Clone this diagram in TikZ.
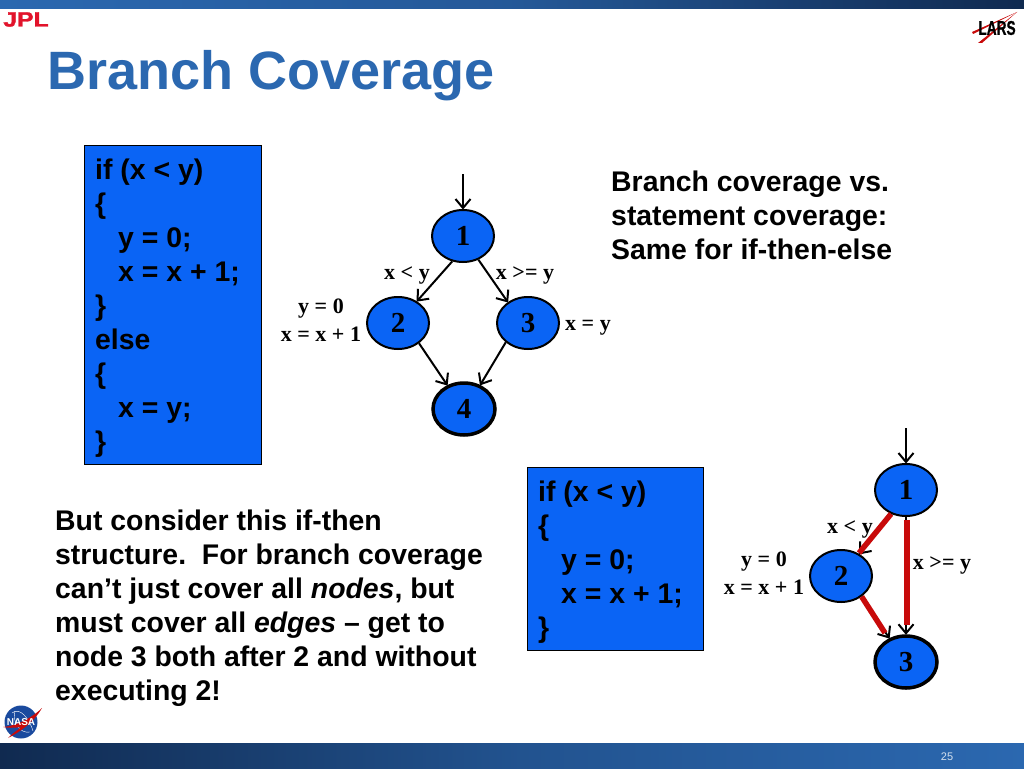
\documentclass[tikz,border=0pt]{standalone}
\usepackage{fontspec}
\setmainfont{Liberation Sans}
\newfontfamily\serifb{Liberation Serif}[BoldFont=* Bold]
\usetikzlibrary{shapes.geometric,arrows.meta,shadings}
\pgfdeclarearrow{
  name = OpenV,
  defaults = {length=10pt,width=15pt},
  setup code = {
    \pgfarrowssettipend{0pt}
    \pgfarrowssetlineend{-1.5pt}
    \pgfarrowssavethe\pgfarrowlength
    \pgfarrowssavethe\pgfarrowwidth
    \pgfarrowshullpoint{0pt}{0pt}
    \pgfarrowshullpoint{-\pgfarrowlength}{.5\pgfarrowwidth}
    \pgfarrowshullpoint{-\pgfarrowlength}{-.5\pgfarrowwidth}
  },
  drawing code = {
    \pgfsetdash{}{0pt}
    \pgfpathmoveto{\pgfqpoint{-\pgfarrowlength}{.5\pgfarrowwidth}}
    \pgfpathlineto{\pgfqpoint{-1pt}{0pt}}
    \pgfpathlineto{\pgfqpoint{-\pgfarrowlength}{-.5\pgfarrowwidth}}
    \pgfusepathqstroke
  },
  parameters = {\the\pgfarrowlength,\the\pgfarrowwidth},
}
\definecolor{barblue}{HTML}{2B68B0}
\definecolor{barnavy}{HTML}{102A50}
\definecolor{boxblue}{HTML}{0A64F5}
\definecolor{edgered}{HTML}{C80A0A}
\definecolor{jplred}{HTML}{E2132B}
\definecolor{nasablue}{HTML}{1A4A9E}
\tikzset{
  x=1pt,y=-1pt,
  flownode/.style={ellipse,draw=black,line width=2pt,fill=boxblue,minimum width=62pt,minimum height=52pt,inner sep=0pt,font=\serifb\bfseries\fontsize{29}{29}\selectfont},
  endnode/.style={flownode,line width=3.5pt,minimum width=62pt,minimum height=52pt},
  codebox/.style={draw=black,line width=1pt,fill=boxblue,anchor=north west,inner sep=0pt},
  codetext/.style={anchor=north west,align=left,inner sep=0pt,font=\bfseries\fontsize{28.4}{34}\selectfont},
  bodytext/.style={anchor=north west,align=left,inner sep=0pt,font=\bfseries\fontsize{28.4}{34}\selectfont},
  edgelabel/.style={inner sep=0pt,align=center,font=\serifb\bfseries\fontsize{22}{28}\selectfont},
  arrowline/.style={draw=black,line width=2pt,-{OpenV}},
  redline/.style={draw=edgered,line width=5.5pt},
}
\begin{document}
\begin{tikzpicture}
\useasboundingbox (0,0) rectangle (1024,768);
\fill[white] (0,0) rectangle (1024,768);
% bars
\shade[left color=barblue,right color=barnavy,middle color=barblue!75!barnavy] (0,0) rectangle (1024,9);
\shade[left color=barnavy,right color=barblue,middle color=barnavy!35!barblue] (0,743) rectangle (1024,768);
\node[text=white!80!barblue,font=\fontsize{11}{11}\selectfont,inner sep=0pt] (page) at (947,757) {25};
% title
\node[anchor=west,inner sep=0pt,text=barblue,font=\bfseries\fontsize{54}{54}\selectfont] (title) at (47,76) {Branch Coverage};
% JPL logo
\node[inner sep=0pt,text=jplred,font=\bfseries\fontsize{21}{21}\selectfont] (jpl) at (26,19.5) {\addfontfeatures{FakeBold=1.5}\scalebox{1.18}[0.98]{JPL}};
% LARS logo
\fill[edgered] (972,32) -- (1017,12) -- (973,34) -- cycle;
\fill[edgered] (978,43) -- (1017,12) -- (982,43) -- cycle;
\node[inner sep=0pt,font=\bfseries\fontsize{19}{19}\selectfont] (lars) at (997,28) {\addfontfeatures{FakeBold=1}\scalebox{0.72}[1.05]{LARS}};
% NASA logo
\node[circle,fill=nasablue,minimum size=33pt,inner sep=0pt] (meatball) at (21,722) {};
\draw[white,line width=0.4pt] (12,713) .. controls (20,706) and (30,720) .. (33,731);
\draw[white,line width=0.4pt] (15,711) .. controls (12,722) and (20,734) .. (30,732);
\fill[edgered] (3,727) .. controls (18,726) and (34,716) .. (42,708) .. controls (34,722) and (20,732) .. (8,738) .. controls (14,732) and (18,730) .. (21,727) .. controls (14,728) and (8,728) .. (3,727) -- cycle;
\node[inner sep=0pt,text=white,font=\bfseries\fontsize{10}{10}\selectfont] (nasa) at (21,722) {NASA};
% top code box
\node[codebox,minimum width=177pt,minimum height=319pt] (boxa) at (84,145) {};
\node[codetext] (codea) at (95,159) {if (x < y)\\\{\\\hspace*{23pt}y = 0;\\\hspace*{23pt}x = x + 1;\\\}\\else\\\{\\\hspace*{23pt}x = y;\\\}};
% top graph
\node[flownode] (a1) at (463,236) {1};
\node[flownode] (a2) at (398,323) {2};
\node[flownode] (a3) at (528,323) {3};
\node[endnode] (a4) at (464,409) {4};
\coordinate (astart) at (463,174);
\draw[arrowline] (astart) -- (a1.north);
\draw[arrowline] (a1.-113) -- (a2.49);
\draw[arrowline] (a1.-57) -- (a3.134);
\draw[arrowline] (a2.-44) -- (a4.125);
\draw[arrowline] (a3.-139) -- (a4.56);
\node[edgelabel] (la1) at (407,275) {x < y};
\node[edgelabel] (la2) at (525,275) {x >= y};
\node[edgelabel] (la3) at (321,320) {y = 0\\x = x + 1};
\node[edgelabel] (la4) at (588,328) {x = y};
% top note
\node[bodytext] (notea) at (611,171) {Branch coverage vs.\\statement coverage:\\Same for if-then-else};
% lower note
\node[bodytext] (noteb) at (55,510) {But consider this if-then\\structure.\ \ For branch coverage\\can’t just cover all \textit{nodes}, but\\must cover all \textit{edges} – get to\\node 3 both after 2 and without\\executing 2!};
% lower code box
\node[codebox,minimum width=176pt,minimum height=183pt] (boxb) at (527,467) {};
\node[codetext] (codeb) at (538,481) {if (x < y)\\\{\\\hspace*{23pt}y = 0;\\\hspace*{23pt}x = x + 1;\\\}};
% lower graph
\node[flownode] (b1) at (906,490) {1};
\node[flownode] (b2) at (841,576) {2};
\node[endnode] (b3) at (906,662) {3};
\coordinate (bstart) at (906,428);
\draw[arrowline] (bstart) -- (b1.north);
\draw[arrowline] (b1.-120) -- (b2.50);
\draw[arrowline] (b1.-90) -- (b3.north);
\draw[arrowline] (b2.-45) -- (b3.125);
\draw[redline] (b1.-122) -- (859,553);
\draw[redline] (907,520) -- (907,625);
\draw[redline] (b2.-45) -- (885,633);
\node[edgelabel] (lb1) at (850,529) {x < y};
\node[edgelabel] (lb2) at (942,565) {x >= y};
\node[edgelabel] (lb3) at (764,573) {y = 0\\x = x + 1};
\end{tikzpicture}
\end{document}
